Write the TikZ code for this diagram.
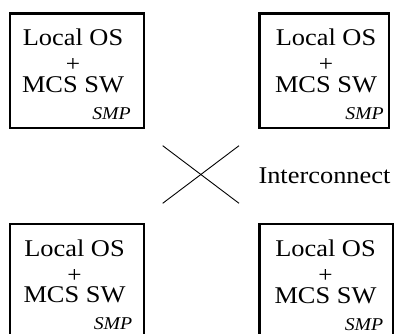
\documentclass[tikz,border=0pt]{standalone}
\usepackage{fontspec}
\setmainfont{Liberation Serif}[FakeStretch=1.1]
\usetikzlibrary{calc}
\tikzset{
  unitbox/.style={draw, line width=2.4pt, rectangle, inner sep=0pt, anchor=north west},
  mainline/.style={font=\fontsize{24}{24}\selectfont, inner sep=0pt, text height=16pt, text depth=4pt, anchor=base},
  plussign/.style={font=\fontsize{23}{23}\selectfont, inner sep=0pt, anchor=center},
  smptag/.style={font=\fontsize{18}{18}\selectfont\itshape, inner sep=0pt, text height=12pt, anchor=base east},
  link/.style={line width=0.9pt},
}
\begin{document}
\begin{tikzpicture}[x=1pt,y=-1pt]
\useasboundingbox (0,0) rectangle (394,334);
\clip (0,0) rectangle (394,334);
% four SMP nodes: name / left / top / width / height / text centre offset
\foreach \n/\lx/\ty/\w/\h/\c in {tl/9/12.5/133.7/114.5/64,
                                 tr/258.3/12.5/129.4/114.5/67.7,
                                 bl/9/222.7/133.7/140/65.5,
                                 br/258.3/223/133.4/140/67.2}{
  \node[unitbox, minimum width=\w pt, minimum height=\h pt] (\n) at (\lx,\ty) {};
  \node[mainline] (\n-os) at ($(\n.north west)+(\c,33.5)$) {Local OS};
  \node[plussign] (\n-plus) at ($(\n.north west)+(\c,53)$) {+};
  \node[mainline] (\n-sw) at ($(\n.north west)+(\c,80)$) {MCS SW};
  \node[smptag] (\n-smp) at ($(\n.north west)+(\c+58,107)$) {SMP};
}
% interconnect cross
\coordinate (xa) at (162.7,145.7);
\coordinate (xb) at (239,203.3);
\coordinate (xc) at (239,145.7);
\coordinate (xd) at (162.7,203.3);
\draw[link] (xa) -- (xb);
\draw[link] (xc) -- (xd);
\node[mainline, anchor=base west] (ic) at (258.3,184) {Interconnect};
\end{tikzpicture}
\end{document}
